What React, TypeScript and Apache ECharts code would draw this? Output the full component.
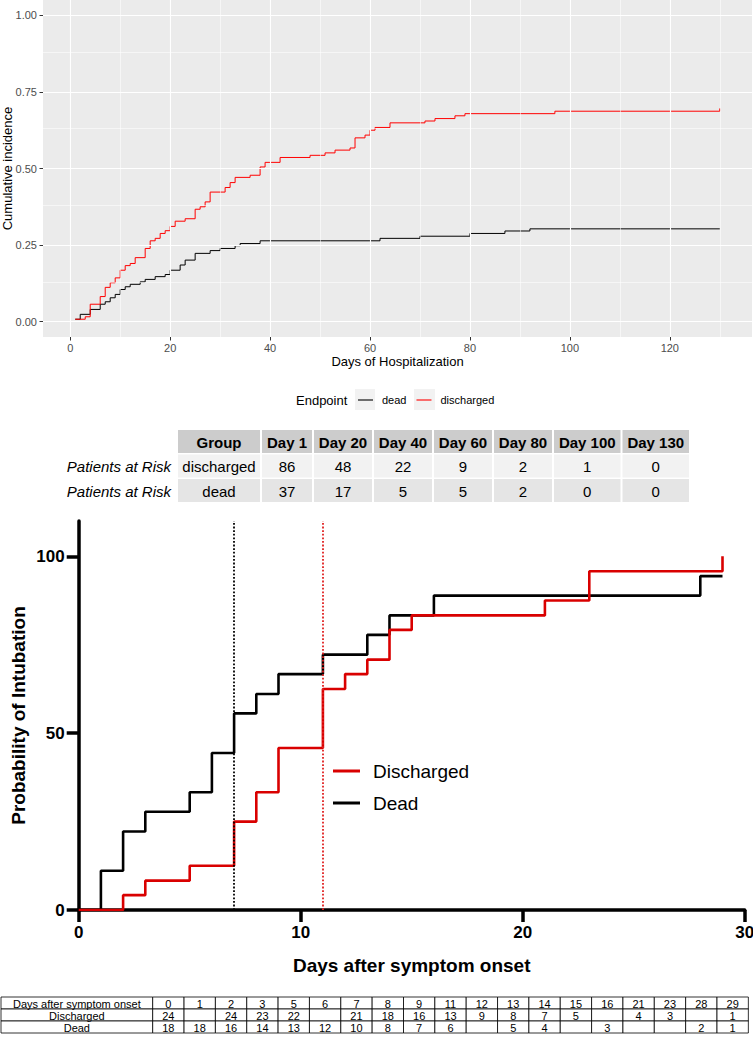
import React, { useEffect, useRef } from "react";
import * as echarts from "echarts";

const FONT = "'Liberation Sans', Arial, Helvetica, sans-serif";

// ---------- Top chart: cumulative incidence by days of hospitalization ----------
const hospDeadDays = [1, 2, 4, 6, 7, 8, 9, 10, 11, 12, 14, 15, 17, 19, 20, 22, 23, 25, 28, 30, 33, 34, 38, 62, 70, 80, 87, 92, 130];
const hospDeadValues = [0.008, 0.024, 0.040, 0.057, 0.065, 0.078, 0.089, 0.105, 0.114, 0.122, 0.130, 0.138, 0.147, 0.154, 0.168, 0.185, 0.201, 0.223, 0.232, 0.239, 0.248, 0.255, 0.264, 0.272, 0.279, 0.288, 0.296, 0.303, 0.303];
const hospDischDays = [1, 3, 4, 6, 7, 8, 9, 10, 11, 12, 13, 15, 16, 17, 18, 19, 20, 21, 23, 25, 26, 27, 28, 31, 32, 33, 36, 38, 39, 42, 48, 51, 53, 56, 57, 59, 60, 61, 64, 71, 73, 77, 79, 97, 130, 130];
const hospDischValues = [0.008, 0.016, 0.057, 0.082, 0.112, 0.127, 0.143, 0.168, 0.183, 0.190, 0.209, 0.239, 0.264, 0.272, 0.288, 0.297, 0.311, 0.328, 0.336, 0.367, 0.375, 0.391, 0.423, 0.438, 0.454, 0.471, 0.478, 0.505, 0.520, 0.536, 0.543, 0.551, 0.560, 0.567, 0.600, 0.609, 0.625, 0.634, 0.649, 0.655, 0.663, 0.672, 0.679, 0.687, 0.687, 0.696];
const hospXTicks = [0, 20, 40, 60, 80, 100, 120];
const hospXMinor = [10, 30, 50, 70, 90, 110, 130];
const hospYTicks = [0, 0.25, 0.5, 0.75, 1];
const hospYMinor = [0.125, 0.375, 0.625, 0.875];

// ---------- Patients at risk table ----------
const riskHeader = ["Group", "Day 1", "Day 20", "Day 40", "Day 60", "Day 80", "Day 100", "Day 130"];
const riskRowLabels = ["Patients at Risk", "Patients at Risk"];
const riskGroups = ["discharged", "dead"];
const riskDischarged = [86, 48, 22, 9, 2, 1, 0];
const riskDead = [37, 17, 5, 5, 2, 0, 0];

// ---------- Bottom chart: probability of intubation ----------
const intubDeadDays = [0, 1, 2, 3, 5, 6, 7, 8, 9, 11, 13, 14, 16, 28, 29];
const intubDeadValues = [0, 11.1, 22.2, 27.8, 33.3, 44.4, 55.6, 61.1, 66.7, 72.2, 77.8, 83.3, 88.9, 94.4, 94.4];
const intubDischDays = [0, 2, 3, 5, 7, 8, 9, 11, 12, 13, 14, 15, 21, 23, 29, 29];
const intubDischValues = [0, 4.2, 8.3, 12.5, 25, 33.3, 45.8, 62.5, 66.7, 70.8, 79.2, 83.3, 87.5, 95.8, 95.8, 100];
const medianDead = 7;
const medianDischarged = 11;
const intubYTicks = [0, 50, 100];

// ---------- Bottom numbers table ----------
const onsetDays = [0, 1, 2, 3, 5, 6, 7, 8, 9, 11, 12, 13, 14, 15, 16, 21, 23, 28, 29];
const onsetDischarged = [24, null, 24, 23, 22, null, 21, 18, 16, 13, 9, 8, 7, 5, null, 4, 3, null, 1];
const onsetDead = [18, 18, 16, 14, 13, 12, 10, 8, 7, 6, null, 5, 4, null, 3, null, null, 2, 1];

const zip = (xs: number[], ys: number[]) => xs.map((x, i) => [x, ys[i]]);

// layout of tables (not data)
const riskColWidths = [84, 52, 60, 60, 60, 60, 68.5, 68.5];

function buildRiskTable(): any[] {
  const els: any[] = [];
  const left = 177;
  const tops = [430, 454.5, 479];
  const h = 23;
  const fills = ["#CCCCCC", "#F2F2F2", "#E5E5E5"];
  const rows: string[][] = [
    riskHeader,
    [riskGroups[0], ...riskDischarged.map(String)],
    [riskGroups[1], ...riskDead.map(String)],
  ];
  rows.forEach((row, r) => {
    let x = left;
    row.forEach((cell, c) => {
      const w = riskColWidths[c];
      els.push({
        type: "rect",
        silent: true,
        z: 5,
        shape: { x: x + 1, y: tops[r], width: w - 2, height: h },
        style: { fill: fills[r] },
      });
      els.push({
        type: "text",
        silent: true,
        z: 6,
        style: {
          text: cell,
          x: x + w / 2,
          y: tops[r] + h / 2 + 0.5,
          textAlign: "center",
          textVerticalAlign: "middle",
          align: "center",
          verticalAlign: "middle",
          font: `${r === 0 ? "bold " : ""}15px ${FONT}`,
          fill: "#000",
        },
      });
      x += w;
    });
    if (r > 0) {
      els.push({
        type: "text",
        silent: true,
        z: 6,
        style: {
          text: riskRowLabels[r - 1],
          x: left - 6,
          y: tops[r] + h / 2 + 0.5,
          textAlign: "right",
          textVerticalAlign: "middle",
          align: "right",
          verticalAlign: "middle",
          font: `italic 15px ${FONT}`,
          fill: "#000",
        },
      });
    }
  });
  return els;
}

function buildOnsetTable(): any[] {
  const els: any[] = [];
  const left = 1;
  const firstW = 151.7;
  const colW = 31.35;
  const top = 997;
  const h = 12;
  const rows: (string | number | null)[][] = [
    ["Days after symptom onset", ...onsetDays],
    ["Discharged", ...onsetDischarged],
    ["Dead", ...onsetDead],
  ];
  rows.forEach((row, r) => {
    const y = top + r * h;
    row.forEach((cell, c) => {
      const x = c === 0 ? left : left + firstW + (c - 1) * colW;
      const w = c === 0 ? firstW : colW;
      els.push({
        type: "rect",
        silent: true,
        z: 5,
        shape: { x, y, width: w, height: h },
        style: { fill: "#fff", stroke: "#000", lineWidth: 0.8 },
      });
      if (cell !== null && cell !== undefined) {
        els.push({
          type: "text",
          silent: true,
          z: 6,
          style: {
            text: String(cell),
            x: x + w / 2,
            y: y + h / 2 + 0.5,
            textAlign: "center",
            textVerticalAlign: "middle",
            align: "center",
            verticalAlign: "middle",
            font: `11px ${FONT}`,
            fill: "#000",
          },
        });
      }
    });
  });
  return els;
}

function buildTopLegendDecor(): any[] {
  return [
    {
      type: "text",
      silent: true,
      z: 6,
      style: {
        text: "Endpoint",
        x: 296,
        y: 400,
        textAlign: "left",
        textVerticalAlign: "middle",
        align: "left",
        verticalAlign: "middle",
        font: `13px ${FONT}`,
        fill: "#000",
      },
    },
    { type: "rect", silent: true, z: 1, shape: { x: 355, y: 389, width: 20, height: 21 }, style: { fill: "#F2F2F2" } },
    { type: "rect", silent: true, z: 1, shape: { x: 414, y: 389, width: 21, height: 21 }, style: { fill: "#F2F2F2" } },
  ];
}

const gridLineSeries = (name: string, xs: number[], ys: number[], width: number) => ({
  name,
  type: "line",
  xAxisIndex: 0,
  yAxisIndex: 0,
  data: [[xs[0], ys[0]]],
  symbol: "none",
  lineStyle: { width: 0, opacity: 0 },
  z: 1,
  silent: true,
  markLine: {
    silent: true,
    animation: false,
    symbol: ["none", "none"],
    label: { show: false },
    lineStyle: { color: "#FFFFFF", width, type: "solid", opacity: 1 },
    data: [...xs.map((v) => ({ xAxis: v })), ...ys.map((v) => ({ yAxis: v }))],
  },
});

export default function App() {
  const ref = useRef<HTMLDivElement>(null);

  useEffect(() => {
    if (!ref.current) return;
    const chart = echarts.init(ref.current, null, { renderer: "svg" });
    const topAxisLabel = { color: "#4D4D4D", fontSize: 11, fontFamily: FONT };
    const topTick = { lineStyle: { color: "#333333", width: 1 } };
    const option: any = {
      animation: false,
      textStyle: { fontFamily: FONT },
      grid: [
        { left: 43, top: 0, width: 709, height: 337, show: true, backgroundColor: "#EBEBEB", borderWidth: 0, containLabel: false, outerBoundsMode: "none" },
        { left: 78.7, top: 521, width: 666, height: 389, containLabel: false, outerBoundsMode: "none" },
      ],
      legend: [
        {
          data: ["dead", "discharged"],
          icon: "rect",
          left: 358,
          top: 394.5,
          padding: 0,
          itemWidth: 15,
          itemHeight: 1.1,
          itemGap: 10,
          selectedMode: false,
          textStyle: { fontSize: 11, color: "#000", fontFamily: FONT, padding: [0, 0, 0, 4] },
          z: 5,
        },
        {
          data: ["Discharged", "Dead"],
          icon: "rect",
          orient: "vertical",
          left: 333,
          top: 761.5,
          padding: 0,
          itemWidth: 27,
          itemHeight: 3,
          itemGap: 13,
          selectedMode: false,
          textStyle: { fontSize: 19, color: "#000", fontFamily: FONT, padding: [0, 0, 0, 8] },
        },
      ],
      xAxis: [
        {
          type: "value",
          gridIndex: 0,
          min: -5.45,
          max: 136.45,
          axisLine: { show: false, onZero: false },
          axisTick: { show: true, customValues: hospXTicks, length: 3.5, ...topTick },
          axisLabel: { customValues: hospXTicks, margin: 5, ...topAxisLabel },
          splitLine: { show: false },
          name: "Days of Hospitalization",
          nameLocation: "middle",
          nameGap: 18,
          nameMoveOverlap: false,
          nameTextStyle: { color: "#000", fontSize: 13, fontFamily: FONT },
        },
        {
          type: "value",
          gridIndex: 1,
          min: 0,
          max: 30,
          interval: 10,
          axisLine: { show: true, onZero: false, lineStyle: { color: "#000", width: 3.5 } },
          axisTick: { show: true, length: 12, lineStyle: { color: "#000", width: 3.5 } },
          axisLabel: { color: "#000", fontSize: 17, fontWeight: "bold", margin: 14, fontFamily: FONT },
          splitLine: { show: false },
          name: "Days after symptom onset",
          nameLocation: "middle",
          nameGap: 46,
          nameMoveOverlap: false,
          nameTextStyle: { color: "#000", fontSize: 19, fontWeight: "bold", fontFamily: FONT },
        },
      ],
      yAxis: [
        {
          type: "value",
          gridIndex: 0,
          min: -0.05,
          max: 1.05,
          axisLine: { show: false, onZero: false },
          axisTick: { show: true, customValues: hospYTicks, length: 3.5, ...topTick },
          axisLabel: { customValues: hospYTicks, margin: 6, formatter: (v: number) => v.toFixed(2), ...topAxisLabel },
          splitLine: { show: false },
          name: "Cumulative incidence",
          nameLocation: "middle",
          nameGap: 29,
          nameMoveOverlap: false,
          nameTextStyle: { color: "#000", fontSize: 13, fontFamily: FONT },
        },
        {
          type: "value",
          gridIndex: 1,
          min: 0,
          max: 110,
          axisLine: { show: true, onZero: false, lineStyle: { color: "#000", width: 3.5 } },
          axisTick: { show: true, customValues: intubYTicks, length: 12, lineStyle: { color: "#000", width: 3.5 } },
          axisLabel: { customValues: intubYTicks, color: "#000", fontSize: 17, fontWeight: "bold", margin: 14, fontFamily: FONT },
          splitLine: { show: false },
          name: "Probability of Intubation",
          nameLocation: "middle",
          nameGap: 51,
          nameMoveOverlap: false,
          nameTextStyle: { color: "#000", fontSize: 19, fontWeight: "bold", fontFamily: FONT },
        },
      ],
      graphic: { elements: [...buildTopLegendDecor(), ...buildRiskTable(), ...buildOnsetTable()] },
      series: [
        gridLineSeries("minorGrid", hospXMinor, hospYMinor, 0.55),
        gridLineSeries("majorGrid", hospXTicks, hospYTicks, 1.1),
        {
          name: "dead",
          type: "line",
          step: "end",
          xAxisIndex: 0,
          yAxisIndex: 0,
          data: zip(hospDeadDays, hospDeadValues),
          symbol: "none",
          lineStyle: { color: "#000000", width: 1 },
          itemStyle: { color: "#000000" },
          z: 3,
        },
        {
          name: "discharged",
          type: "line",
          step: "end",
          xAxisIndex: 0,
          yAxisIndex: 0,
          data: zip(hospDischDays, hospDischValues),
          symbol: "none",
          lineStyle: { color: "#FF0000", width: 1 },
          itemStyle: { color: "#FF0000" },
          z: 4,
        },
        {
          name: "Dead",
          type: "line",
          step: "end",
          xAxisIndex: 1,
          yAxisIndex: 1,
          data: zip(intubDeadDays, intubDeadValues),
          symbol: "none",
          lineStyle: { color: "#000000", width: 2.6 },
          itemStyle: { color: "#000000" },
          z: 3,
          markLine: {
            silent: true,
            symbol: ["none", "none"],
            label: { show: false },
            lineStyle: { color: "#000000", type: "dotted", width: 1.8 },
            data: [{ xAxis: medianDead }],
          },
        },
        {
          name: "Discharged",
          type: "line",
          step: "end",
          xAxisIndex: 1,
          yAxisIndex: 1,
          data: zip(intubDischDays, intubDischValues),
          symbol: "none",
          lineStyle: { color: "#D90000", width: 2.6 },
          itemStyle: { color: "#D90000" },
          z: 4,
          markLine: {
            silent: true,
            symbol: ["none", "none"],
            label: { show: false },
            lineStyle: { color: "#E02020", type: "dotted", width: 1.8 },
            data: [{ xAxis: medianDischarged }],
          },
        },
      ],
    };
    chart.setOption(option);
    return () => chart.dispose();
  }, []);

  return (
    <div
      ref={ref}
      style={{ position: "absolute", left: 0, top: 0, width: 753, height: 1043, background: "#fff" }}
    />
  );
}
